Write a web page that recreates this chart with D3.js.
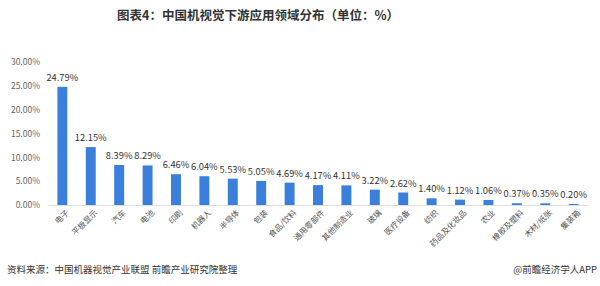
<!DOCTYPE html>
<html>
<head>
<meta charset="utf-8">
<script src="https://cdn.jsdelivr.net/npm/d3@7"></script>
<style>
  body { margin: 0; background: #fff; }
  svg text { font-family: "Noto Sans CJK SC", "Noto Sans", sans-serif; }
</style>
</head>
<body>
<div class="chart"></div>
<script>
// data
var categories = ["电子", "平板显示", "汽车", "电池", "印刷", "机器人", "半导体", "包装", "食品/饮料",
  "通用零部件", "其他制造业", "玻璃", "医疗设备", "纺织", "药品及化妆品", "农业", "橡胶及塑料", "木材/纸张", "集装箱"];
var values = [24.79, 12.15, 8.39, 8.29, 6.46, 6.04, 5.53, 5.05, 4.69,
  4.17, 4.11, 3.22, 2.62, 1.40, 1.12, 1.06, 0.37, 0.35, 0.20];
var yTicks = [0, 5, 10, 15, 20, 25, 30];

var svgWidth = 600;
var svgHeight = 286;
var margin = { top: 62, right: 12, bottom: 81, left: 48 };
var width = svgWidth - margin.left - margin.right;
var height = svgHeight - margin.top - margin.bottom;

var svg = d3.select(".chart")
  .append("svg")
  .attr("width", svgWidth)
  .attr("height", svgHeight);

// title
svg.append("text")
  .attr("x", 258)
  .attr("y", 20)
  .attr("text-anchor", "middle")
  .attr("font-size", 12.5)
  .attr("font-weight", "bold")
  .attr("fill", "#333")
  .text("图表4：中国机视觉下游应用领域分布（单位：%）");

var chartGroup = svg.append("g")
  .attr("transform", `translate(${margin.left}, ${margin.top})`);

var x = d3.scaleBand()
  .domain(categories)
  .range([0, width])
  .paddingInner(0.65)
  .paddingOuter(0.33);

var y = d3.scaleLinear()
  .domain([0, 30])
  .range([height, 0]);

// y axis (labels only)
var leftAxis = d3.axisLeft(y)
  .tickValues(yTicks)
  .tickSize(0)
  .tickPadding(8)
  .tickFormat(d => d.toFixed(2) + "%");

chartGroup.append("g")
  .call(leftAxis)
  .call(g => g.select(".domain").remove())
  .selectAll("text")
  .attr("font-size", 8.5)
  .attr("fill", "#666")
  .style("font-family", "\"Noto Sans CJK SC\", sans-serif");

// bars
chartGroup.selectAll("rect")
  .data(values)
  .enter()
  .append("rect")
  .attr("x", (d, i) => x(categories[i]))
  .attr("y", d => y(d))
  .attr("width", x.bandwidth())
  .attr("height", d => height - y(d))
  .attr("fill", "#3b7fdc");

// value labels
chartGroup.selectAll(".val")
  .data(values)
  .enter()
  .append("text")
  .attr("class", "val")
  .attr("x", (d, i) => x(categories[i]) + x.bandwidth() / 2)
  .attr("y", d => y(d) - 6)
  .attr("text-anchor", "middle")
  .attr("font-size", 9.3)
  .attr("fill", "#333")
  .text(d => d.toFixed(2) + "%");

// x axis
var bottomAxis = d3.axisBottom(x).tickSize(0).tickPadding(5);
chartGroup.append("g")
  .attr("transform", `translate(0, ${height})`)
  .call(bottomAxis)
  .call(g => g.select(".domain").attr("stroke", "#ddd"))
  .selectAll("text")
  .attr("font-size", 8)
  .attr("fill", "#555")
  .attr("text-anchor", "end")
  .attr("dy", "0.3em")
  .attr("transform", "translate(2,3) rotate(-45)")
  .style("font-family", "\"Noto Sans CJK SC\", sans-serif");

// footer
svg.append("text")
  .attr("x", 7)
  .attr("y", 273)
  .attr("font-size", 9.5)
  .attr("fill", "#333")
  .text("资料来源：中国机器视觉产业联盟 前瞻产业研究院整理");

svg.append("text")
  .attr("x", 597)
  .attr("y", 273)
  .attr("text-anchor", "end")
  .attr("font-size", 9.5)
  .attr("fill", "#333")
  .text("@前瞻经济学人APP");
</script>
</body>
</html>
